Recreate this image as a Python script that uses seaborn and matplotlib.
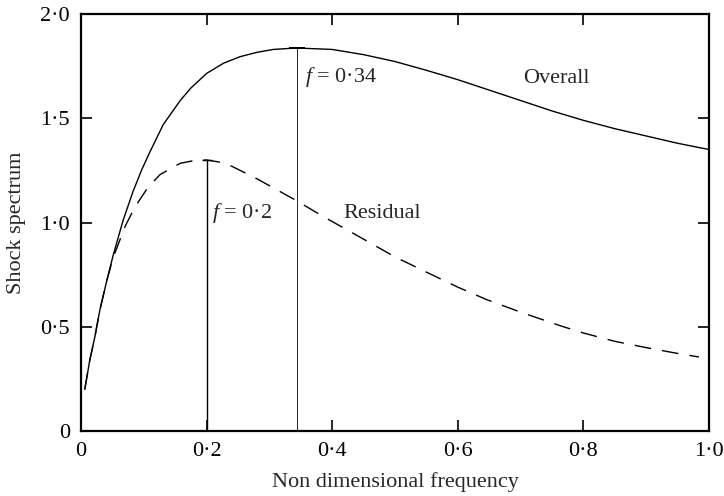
import matplotlib
matplotlib.use("Agg")
import matplotlib.pyplot as plt
import seaborn as sns
import pandas as pd

# Data
overall_x = [0.006, 0.014, 0.022, 0.030, 0.041, 0.051, 0.067, 0.083, 0.097, 0.110, 0.131,
             0.158, 0.175, 0.2, 0.227, 0.253, 0.28, 0.306, 0.343, 0.4, 0.45, 0.5, 0.55,
             0.6, 0.65, 0.7, 0.75, 0.8, 0.85, 0.9, 0.95, 1.0]
overall_y = [0.20, 0.34, 0.45, 0.58, 0.72, 0.84, 1.01, 1.15, 1.255, 1.34, 1.47,
             1.585, 1.645, 1.715, 1.764, 1.795, 1.816, 1.83, 1.837, 1.83, 1.805, 1.772, 1.73,
             1.685, 1.635, 1.585, 1.535, 1.49, 1.45, 1.415, 1.38, 1.35]
residual_x = [0.006, 0.014, 0.022, 0.030, 0.041, 0.051, 0.07, 0.086, 0.107, 0.126, 0.158,
              0.18, 0.2, 0.22, 0.24, 0.26, 0.28, 0.31, 0.34, 0.385, 0.45, 0.5, 0.55, 0.6,
              0.646, 0.7, 0.763, 0.8, 0.85, 0.9, 0.95, 0.984]
residual_y = [0.20, 0.34, 0.45, 0.58, 0.72, 0.83, 0.98, 1.075, 1.17, 1.23, 1.284,
              1.297, 1.30, 1.29, 1.27, 1.24, 1.21, 1.16, 1.11, 1.03, 0.92, 0.835, 0.762, 0.69,
              0.63, 0.57, 0.505, 0.47, 0.43, 0.40, 0.372, 0.355]
peak_residual_f, peak_residual_v = 0.2, 1.30
peak_overall_f, peak_overall_v = 0.344, 1.837

xtick_vals = [0, 0.2, 0.4, 0.6, 0.8, 1.0]
xtick_labels = ["0", "0·2", "0·4", "0·6", "0·8", "1·0"]
ytick_vals = [0, 0.5, 1.0, 1.5, 2.0]
ytick_labels = ["0", "0·5", "1·0", "1·5", "2·0"]

sns.set_style("ticks")
plt.rcParams["font.family"] = ["Liberation Serif", "DejaVu Serif"]
plt.rcParams["mathtext.fontset"] = "custom"
plt.rcParams["mathtext.it"] = "Liberation Serif:italic"
plt.rcParams["mathtext.rm"] = "Liberation Serif"

fig = plt.figure(figsize=(7.24, 4.96), dpi=100)
ax = fig.add_axes([81/724, 65/496, 628/724, 417/496])

df_o = pd.DataFrame({"f": overall_x, "s": overall_y})
df_r = pd.DataFrame({"f": residual_x, "s": residual_y})
sns.lineplot(data=df_o, x="f", y="s", ax=ax, color="black", lw=1.0, sort=False)
sns.lineplot(data=df_r, x="f", y="s", ax=ax, color="black", lw=1.0, sort=False)
ax.lines[-1].set_dashes((12, 8))

ax.vlines(peak_residual_f, 0, peak_residual_v, color="black", lw=1.0)
ax.hlines(peak_residual_v, peak_residual_f - 0.008, peak_residual_f + 0.008,
          color="black", lw=1.0)
ax.vlines(peak_overall_f, 0, peak_overall_v, color="black", lw=0.6)
ax.hlines(peak_overall_v, peak_overall_f - 0.012, peak_overall_f + 0.012,
          color="black", lw=1.4)

fs = 16
ax.text(0.357, 1.70, r"$f$ = 0·34", fontsize=fs, va="center", ha="left")
ax.text(0.209, 1.045, r"$f$ = 0·2", fontsize=fs, va="center", ha="left")
ax.text(0.417, 1.045, "Residual", fontsize=fs, va="center", ha="left")
ax.text(0.704, 1.69, "Overall", fontsize=fs, va="center", ha="left")

ax.set_xlim(0, 1.0)
ax.set_ylim(0, 2.0)
ax.set_xticks(xtick_vals)
ax.set_xticklabels(xtick_labels, fontsize=fs)
ax.set_yticks(ytick_vals)
ax.set_yticklabels(ytick_labels, fontsize=fs)
ax.tick_params(direction="in", length=8, width=1.2, top=True, right=True,
               pad=8, colors="black")
for s in ax.spines.values():
    s.set_visible(True)
    s.set_linewidth(1.6)
    s.set_color("black")
ax.set_xlabel("Non dimensional frequency", fontsize=fs, labelpad=8)
ax.set_ylabel("Shock spectrum", fontsize=fs, labelpad=10)

fig.savefig("out.png", dpi=100)
